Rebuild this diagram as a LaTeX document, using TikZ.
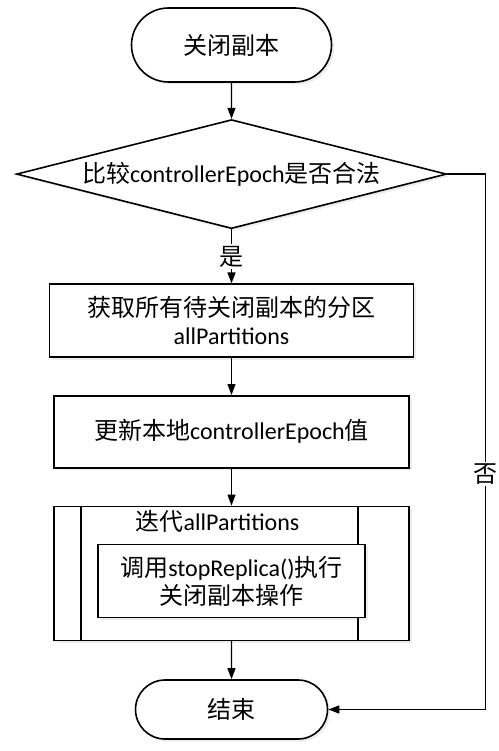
\documentclass[tikz,border=0pt]{standalone}
\usepackage{fontspec}
\setmainfont{Carlito}
\newfontfamily\zhfont{Noto Sans CJK SC}
\usetikzlibrary{shapes.geometric, shapes.misc, positioning, arrows.meta, calc, shadows}

\tikzset{
  base/.style={draw, line width=1.6pt, fill=white, align=center, inner sep=2pt,
    drop shadow={shadow xshift=2.5pt, shadow yshift=-2.5pt, opacity=0.15}},
  term/.style={base, rounded rectangle},
  decision/.style={base, diamond, shape aspect=3.95, inner sep=0pt,
    minimum width=430pt, minimum height=109pt},
  process/.style={base, rectangle, minimum width=355pt, minimum height=72pt},
  flow/.style={line width=1.3pt, -{Triangle[length=11pt, width=8pt]}},
  branch/.style={fill=white, inner sep=2pt},
}

\begin{document}
\begin{tikzpicture}[x=1pt, y=1pt,
    every node/.style={font=\fontsize{24pt}{28pt}\selectfont}]
    \useasboundingbox (0,0) rectangle (498,-751);

    \node[term, minimum width=204pt, minimum height=74pt] (start) at (231.5,-45) {{\zhfont 关闭副本}};
    \node[decision, below=36pt of start] (check) {{\zhfont 比较}controllerEpoch{\zhfont 是否合法}};
    \node[process, below=54pt of check, minimum width=364pt, minimum height=73pt] (getparts)
        {{\zhfont 获取所有待关闭副本的分区}\\allPartitions};
    \node[process, below=37pt of getparts] (update) {{\zhfont 更新本地}controllerEpoch{\zhfont 值}};
    \node[process, below=37pt of update, minimum height=134pt] (iter) {};
    \draw[line width=1.6pt]
        ($(iter.north west)+(28,0)$) -- ($(iter.south west)+(28,0)$)
        ($(iter.north east)+(-51.6,0)$) -- ($(iter.south east)+(-51.6,0)$);
    \node[anchor=north, inner sep=0pt] (itertext) at ($(iter.north)+(-14,-5)$)
        {{\zhfont 迭代}allPartitions};
    \node[base, below=38pt of iter.north, minimum width=267pt, minimum height=73pt] (call)
        {{\zhfont 调用}stopReplica(){\zhfont 执行}\\{\zhfont 关闭副本操作}};
    \node[term, below=38pt of iter, minimum width=196pt, minimum height=59pt] (finish) {{\zhfont 结束}};

    \draw[flow] (start) -- (check);
    \draw[flow] (check) -- node[branch] (yes) {\zhfont 是} (getparts);
    \draw[flow] (getparts) -- (update);
    \draw[flow] (update) -- (iter);
    \draw[flow] (iter) -- (finish);
    \draw[flow] (check.east) -- ++(38,0) |- node[branch, pos=0.28] (no) {\zhfont 否} (finish.east);
\end{tikzpicture}
\end{document}
